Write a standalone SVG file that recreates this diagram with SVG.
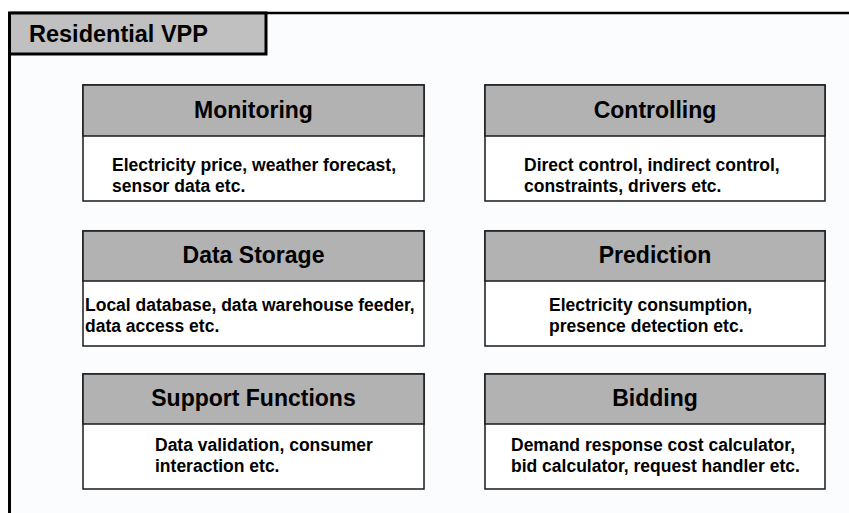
<svg xmlns="http://www.w3.org/2000/svg" width="849" height="513" viewBox="0 0 849 513">
<style>
.hdr{fill:#b2b2b2;stroke:#1a1a1a;stroke-width:1.5}
.body{fill:#ffffff;stroke:#1a1a1a;stroke-width:1.5}
.title{font-family:"Liberation Sans",Arial,sans-serif;font-weight:bold;font-size:23px;fill:#000;text-anchor:middle}
.desc{font-family:"Liberation Sans",Arial,sans-serif;font-weight:bold;font-size:17.5px;fill:#000}
</style>
<rect x="0" y="0" width="849" height="513" fill="#ffffff"/>
<g id="frame">
<rect x="10" y="13" width="839" height="500" fill="#fbfcfe"/>
<line x1="10" y1="13" x2="849" y2="13" stroke="#000" stroke-width="2.5"/>
<line x1="9.5" y1="12" x2="9.5" y2="513" stroke="#000" stroke-width="3"/>
<rect x="9.5" y="13" width="256.5" height="41" fill="#c0c0c0" stroke="#000" stroke-width="3"/>
<text x="29" y="42" font-family="Liberation Sans, Arial, sans-serif" font-weight="bold" font-size="23.5">Residential VPP</text>
</g>
<g id="monitoring">
<rect class="body" x="83" y="85" width="341" height="116"/>
<rect class="hdr" x="83" y="85" width="341" height="51"/>
<text class="title" x="253.5" y="118">Monitoring</text>
<text class="desc" x="112" y="171">Electricity price, weather forecast,</text>
<text class="desc" x="112" y="192">sensor data etc.</text>
</g>
<g id="controlling">
<rect class="body" x="485" y="85" width="340" height="116"/>
<rect class="hdr" x="485" y="85" width="340" height="51"/>
<text class="title" x="655" y="118">Controlling</text>
<text class="desc" x="524" y="171">Direct control, indirect control,</text>
<text class="desc" x="524" y="192">constraints, drivers etc.</text>
</g>
<g id="data-storage">
<rect class="body" x="83" y="231" width="341" height="115"/>
<rect class="hdr" x="83" y="231" width="341" height="50"/>
<text class="title" x="253.5" y="263">Data Storage</text>
<text class="desc" x="85" y="311">Local database, data warehouse feeder,</text>
<text class="desc" x="85" y="332">data access etc.</text>
</g>
<g id="prediction">
<rect class="body" x="485" y="231" width="340" height="115"/>
<rect class="hdr" x="485" y="231" width="340" height="50"/>
<text class="title" x="655" y="263">Prediction</text>
<text class="desc" x="549" y="311">Electricity consumption,</text>
<text class="desc" x="549" y="332">presence detection etc.</text>
</g>
<g id="support-functions">
<rect class="body" x="83" y="374" width="341" height="115"/>
<rect class="hdr" x="83" y="374" width="341" height="50"/>
<text class="title" x="253.5" y="406">Support Functions</text>
<text class="desc" x="155" y="451">Data validation, consumer</text>
<text class="desc" x="155" y="472">interaction etc.</text>
</g>
<g id="bidding">
<rect class="body" x="485" y="374" width="340" height="115"/>
<rect class="hdr" x="485" y="374" width="340" height="50"/>
<text class="title" x="655" y="406">Bidding</text>
<text class="desc" x="511" y="451">Demand response cost calculator,</text>
<text class="desc" x="511" y="472">bid calculator, request handler etc.</text>
</g>
<g id="connectors"></g>
</svg>
